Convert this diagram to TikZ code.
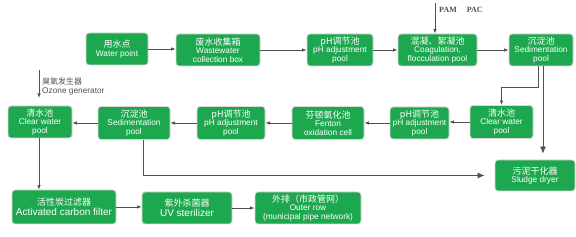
\documentclass[tikz,border=0pt]{standalone}
\usepackage{fontspec}
\setmainfont{Liberation Sans}
\newfontfamily\cjk{Noto Sans CJK SC}
\newfontfamily\serifen{Liberation Serif}
\usetikzlibrary{arrows.meta}
\definecolor{boxgreen}{HTML}{1DA84F}
\definecolor{linegray}{HTML}{505050}
\newcommand{\zh}[1]{{\cjk\fontsize{9}{10.5}\selectfont #1}}
\tikzset{
 box/.style={rectangle, rounded corners=3pt, fill=boxgreen, draw=gray!30, line width=0.8pt,
   text=white, align=center, inner sep=0pt, font=\fontsize{8.3}{8.3}\selectfont},
 big/.style={font=\fontsize{10}{10.5}\selectfont},
 arr/.style={draw=linegray, line width=0.8pt, -{Latex[length=4.5pt,width=3.5pt]}},
 bigarr/.style={draw=linegray, line width=0.8pt, -{Latex[length=7pt,width=6pt]}},
 lbl/.style={text=linegray, align=left, inner sep=0pt},
}
\begin{document}
\begin{tikzpicture}[x=1pt,y=-1pt]
\useasboundingbox (0,0) rectangle (576,237);
% row 1
\node[box, minimum width=62pt, minimum height=32pt] (wp) at (117,49) {\zh{用水点}\\Water point};
\node[box, minimum width=84pt, minimum height=32pt] (wc) at (218,50) {\zh{废水收集箱}\\Wastewater\\collection box};
\node[box, minimum width=66pt, minimum height=32pt] (ph1) at (340,50) {\zh{pH调节池}\\pH adjustment\\pool};
\node[box, minimum width=79pt, minimum height=32pt] (coag) at (437.5,50) {\zh{混凝、絮凝池}\\Coagulation,\\flocculation pool};
\node[box, minimum width=64pt, minimum height=32pt] (sed1) at (541,50) {\zh{沉淀池}\\Sedimentation\\pool};
% row 2
\node[box, minimum width=63pt, minimum height=33pt] (cw1) at (501.5,122) {\zh{清水池}\\Clear water\\pool};
\node[box, minimum width=59pt, minimum height=32pt] (ph2) at (419.5,123) {\zh{pH调节池}\\pH adjustment\\pool};
\node[box, minimum width=72pt, minimum height=33pt] (fen) at (328,123) {\zh{芬顿氧化池}\\Fenton\\oxidation cell};
\node[box, minimum width=68pt, minimum height=33pt] (ph3) at (231,123) {\zh{pH调节池}\\pH adjustment\\pool};
\node[box, minimum width=72pt, minimum height=33pt] (sed2) at (134,123) {\zh{沉淀池}\\Sedimentation\\pool};
\node[box, minimum width=64pt, minimum height=32pt] (cw2) at (40,122) {\zh{清水池}\\Clear water\\pool};
% sludge dryer
\node[box, minimum width=80pt, minimum height=31pt] (sd) at (535,175.5) {\zh{污泥干化器}\\Sludge dryer};
% row 3
\node[box, big, minimum width=104pt, minimum height=34pt] (acf) at (64,207) {\zh{活性炭过滤器}\\Activated carbon filter};
\node[box, big, minimum width=90pt, minimum height=32pt] (uv) at (187,208) {\zh{紫外杀菌器}\\UV sterilizer};
\node[box, minimum width=106pt, minimum height=32pt] (out) at (308,208) {\zh{外排（市政管网）}\\Outer row\\(municipal pipe network)};
% labels
\coordinate (pam) at (435,3);
\node[lbl, anchor=west, font=\serifen\bfseries\fontsize{8}{9}\selectfont] (pamt) at (439,9.5) {PAM\hspace{10pt}PAC};
\coordinate (oz) at (39,70);
\node[lbl, anchor=west, font=\fontsize{8.3}{9.5}\selectfont] (ozt) at (42,86.5) {{\cjk\fontsize{8}{9.5}\selectfont 臭氧发生器}\\Ozone generator};
% connectors
\draw[arr] (wp.east) -- (wc.west |- wp.east);
\draw[arr] (wc.east) -- (ph1.west);
\draw[arr] (ph1.east) -- (coag.west);
\draw[arr] (coag.east) -- (sed1.west);
\draw[arr] (pam) -- (pam |- coag.north);
\draw[arr] ([xshift=-3pt]sed1.south) -- ++(0,21) -| (cw1.north);
\draw[bigarr] ([xshift=2pt]sed1.south) -- ([xshift=2pt,yshift=6pt]sed1.south |- sd.north);
\draw[arr] (cw1.west) -- (ph2.east |- cw1.west);
\draw[arr] (ph2.west) -- (fen.east);
\draw[arr] (fen.west) -- (ph3.east);
\draw[arr] (ph3.west) -- (sed2.east);
\draw[arr] (sed2.west) -- (cw2.east |- sed2.west);
\draw[arr] (oz) -- ++(0,28);
\draw[bigarr] ([xshift=9pt]sed2.south) |- ([xshift=-10pt]sd.west);
\draw[arr] ([xshift=-1pt]cw2.south) -- ([xshift=-1pt]cw2.south |- acf.north);
\draw[arr] (acf.east) -- (uv.west |- acf.east);
\draw[arr] (uv.east) -- (out.west);
\end{tikzpicture}
\end{document}
